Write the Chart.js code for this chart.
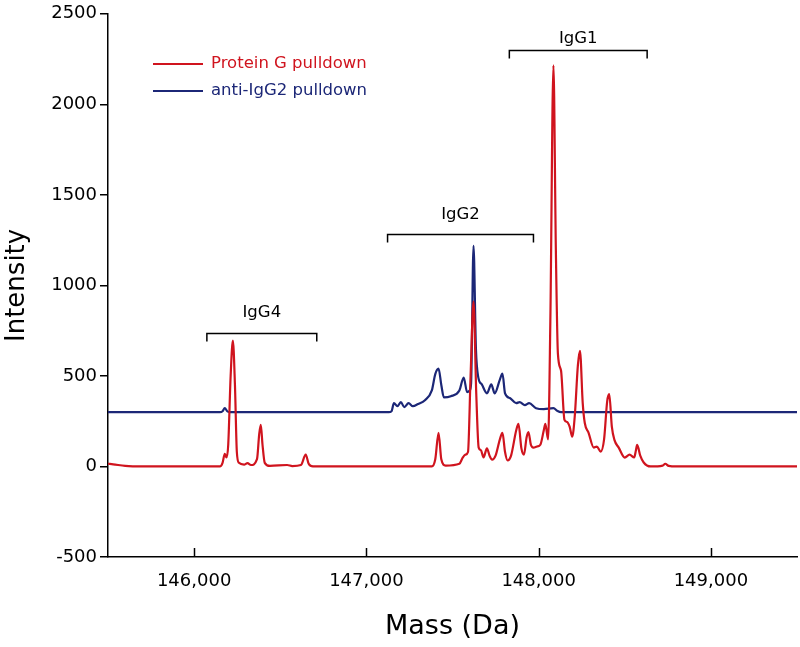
<!DOCTYPE html>
<html>
<head>
<meta charset="utf-8">
<script src="https://cdn.jsdelivr.net/npm/chart.js@4.4.1/dist/chart.umd.min.js"></script>
<style>
  html, body { margin: 0; padding: 0; background: #fff; }
  #wrap { width: 800px; height: 647px; }
</style>
</head>
<body>
<div id="wrap"><canvas id="chart"></canvas></div>
<script>
// Protein G pulldown (red) - mass (Da) and intensity
const proteinGMass = [
  145500, 145530, 145600, 145700, 146150, 146165, 146178, 146188, 146198, 146212,
  146225, 146237, 146248, 146260, 146290, 146310, 146330, 146365, 146378, 146387,
  146397, 146410, 146440, 146540, 146570, 146620, 146648, 146665, 146690, 147380,
  147400, 147419, 147435, 147460, 147540, 147560, 147575, 147590, 147605, 147622,
  147638, 147652, 147665, 147680, 147700, 147715, 147730, 147750, 147775, 147790,
  147805, 147820, 147840, 147870, 147883, 147900, 147915, 147930, 147941, 147955,
  147970, 147990, 148010, 148030, 148039, 148055, 148068, 148086, 148100, 148112,
  148130, 148150, 148165, 148180, 148195, 148210, 148228, 148240, 148256, 148268,
  148290, 148320, 148338, 148360, 148380, 148398, 148410, 148425, 148440, 148465,
  148500, 148528, 148555, 148565, 148572, 148590, 148610, 148650, 148720, 148735,
  148755, 148800, 149500
];
const proteinGIntensity = [
  15, 12, 3, 0, 0, 20, 70, 50, 120, 500,
  695, 450, 80, 20, 10, 18, 8, 40, 180, 230,
  120, 20, 3, 8, 2, 8, 65, 15, 0, 0,
  40, 186, 40, 5, 15, 50, 65, 80, 500, 910,
  400, 104, 90, 50, 100, 60, 38, 60, 150, 186,
  80, 33, 60, 200, 235, 100, 65, 160, 190, 120,
  104, 110, 120, 200, 235, 150, 800, 2215, 1200, 622,
  530, 257, 246, 220, 164, 280, 560, 639, 350, 240,
  186, 104, 110, 82, 150, 360, 399, 220, 147, 104,
  49, 65, 50, 90, 120, 60, 22, 0, 5, 15,
  3, 0, 0
];

// anti-IgG2 pulldown (blue)
const antiIgG2Mass = [
  145500, 146150, 146165, 146178, 146192, 146205, 147130, 147146, 147160, 147180,
  147200, 147220, 147245, 147270, 147300, 147340, 147380, 147400, 147419, 147435,
  147450, 147490, 147540, 147565, 147585, 147600, 147608, 147622, 147636, 147650,
  147670, 147700, 147725, 147745, 147775, 147790, 147805, 147835, 147870, 147890,
  147920, 147945, 147985, 148030, 148086, 148110, 148130, 149500
];
const antiIgG2Intensity = [
  300, 300, 305, 322, 305, 300, 300, 305, 350, 333,
  355, 328, 350, 333, 345, 366, 420, 510, 540, 450,
  382, 388, 420, 491, 410, 420, 460, 1218, 650, 491,
  453, 404, 453, 404, 480, 513, 404, 377, 350, 355,
  339, 350, 322, 317, 322, 306, 300, 300
];

// subclass brackets
const bracketLabels = ['IgG4', 'IgG2', 'IgG1'];
const bracketStart = [146074, 147123, 147830];
const bracketEnd = [146712, 147970, 148630];
const bracketLevel = [738, 1286, 2300];
const bracketTextLevel = [850, 1388, 2362];

const xTicks = [146000, 147000, 148000, 149000];
const yTicks = [-500, 0, 500, 1000, 1500, 2000, 2500];

const RED = '#d0141e';
const BLUE = '#1c2777';
const FONT = "'DejaVu Sans', sans-serif";

function toPoints(xs, ys) {
  return xs.map((x, i) => ({ x: x, y: ys[i] }));
}

// brackets, inward x ticks and the legend
const overlayPlugin = {
  id: 'overlay',
  afterDatasetsDraw(chart) {
    const ctx = chart.ctx;
    const xs = chart.scales.x, ys = chart.scales.y;
    const area = chart.chartArea;
    ctx.save();

    // x ticks pointing up into the plot
    ctx.strokeStyle = '#000';
    ctx.lineWidth = 1.5;
    xTicks.forEach(v => {
      const px = Math.round(xs.getPixelForValue(v)) + 0.5;
      ctx.beginPath();
      ctx.moveTo(px, area.bottom);
      ctx.lineTo(px, area.bottom - 9);
      ctx.stroke();
    });

    // brackets
    ctx.font = '16.5px ' + FONT;
    ctx.fillStyle = '#000';
    ctx.textAlign = 'center';
    ctx.textBaseline = 'middle';
    bracketLabels.forEach((lab, i) => {
      const x1 = xs.getPixelForValue(bracketStart[i]);
      const x2 = xs.getPixelForValue(bracketEnd[i]);
      const y = Math.round(ys.getPixelForValue(bracketLevel[i])) + 0.5;
      ctx.beginPath();
      ctx.moveTo(x1, y + 8);
      ctx.lineTo(x1, y);
      ctx.lineTo(x2, y);
      ctx.lineTo(x2, y + 8);
      ctx.stroke();
      ctx.fillText(lab, (x1 + x2) / 2, ys.getPixelForValue(bracketTextLevel[i]));
    });

    // legend
    ctx.font = '16.5px ' + FONT;
    ctx.textAlign = 'left';
    chart.data.datasets.forEach((ds, i) => {
      const y = 64 + i * 27;
      ctx.strokeStyle = ds.borderColor;
      ctx.lineWidth = 2;
      ctx.beginPath();
      ctx.moveTo(153, y);
      ctx.lineTo(203, y);
      ctx.stroke();
      ctx.fillStyle = ds.borderColor;
      ctx.fillText(ds.label, 211, y);
    });

    ctx.restore();
  }
};

new Chart(document.getElementById('chart'), {
  type: 'line',
  data: {
    datasets: [
      {
        label: 'Protein G pulldown',
        data: toPoints(proteinGMass, proteinGIntensity),
        borderColor: RED,
        borderWidth: 2.2,
        pointRadius: 0,
        cubicInterpolationMode: 'monotone'
      },
      {
        label: 'anti-IgG2 pulldown',
        data: toPoints(antiIgG2Mass, antiIgG2Intensity),
        borderColor: BLUE,
        borderWidth: 2.2,
        pointRadius: 0,
        cubicInterpolationMode: 'monotone'
      }
    ]
  },
  options: {
    responsive: true,
    maintainAspectRatio: false,
    animation: false,
    layout: { padding: { top: 10, right: 3, left: 0, bottom: 0 } },
    plugins: {
      legend: { display: false },
      tooltip: { enabled: false }
    },
    scales: {
      x: {
        type: 'linear',
        min: 145500,
        max: 149500,
        afterBuildTicks: s => { s.ticks = xTicks.map(v => ({ value: v })); },
        afterFit: s => { s.height = 90; },
        grid: { display: false, drawTicks: false },
        border: { display: true, color: '#000', width: 1.5 },
        ticks: {
          color: '#000',
          font: { family: FONT, size: 18 },
          padding: 14,
          maxRotation: 0,
          callback: v => v.toLocaleString('en-US')
        },
        title: {
          display: true,
          text: 'Mass (Da)',
          color: '#000',
          font: { family: FONT, size: 27 },
          padding: { top: 0, bottom: 4 }
        }
      },
      y: {
        min: -500,
        max: 2500,
        afterBuildTicks: s => { s.ticks = yTicks.map(v => ({ value: v })); },
        afterFit: s => { s.width = 108; },
        grid: { drawOnChartArea: false, drawTicks: true, tickLength: 8, color: '#000', lineWidth: 1.5 },
        border: { display: true, color: '#000', width: 1.5 },
        ticks: {
          color: '#000',
          font: { family: FONT, size: 18 },
          padding: 3,
          callback: v => String(v)
        },
        title: {
          display: true,
          text: 'Intensity',
          color: '#000',
          font: { family: FONT, size: 26 },
          padding: { top: 2, bottom: 0 }
        }
      }
    }
  },
  plugins: [overlayPlugin]
});
</script>
</body>
</html>
